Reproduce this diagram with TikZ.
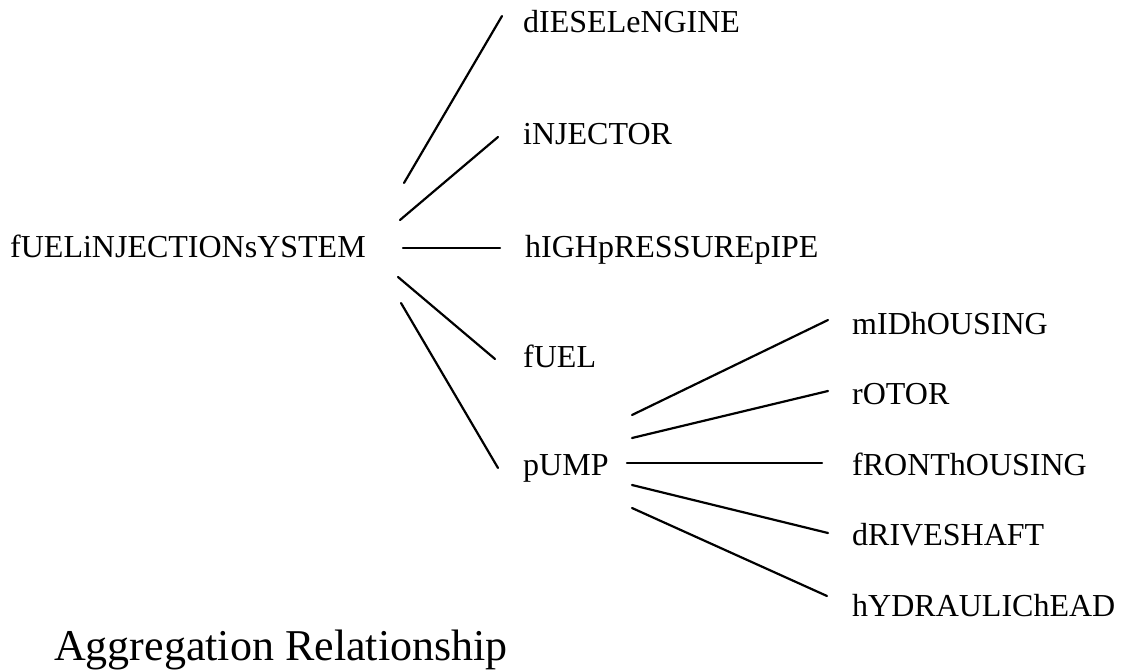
\documentclass[tikz,border=0pt]{standalone}
\usepackage{fontspec}
\setmainfont{Liberation Serif}
\begin{document}
\begin{tikzpicture}[x=1pt,y=-1pt,
  part/.style={anchor=base west,inner sep=0pt,font=\fontsize{32}{36}\selectfont},
  link/.style={line width=2.2pt,line cap=round}]
\useasboundingbox[fill=white] (0,0) rectangle (1127,671);

% top-level assembly and its parts
\node[part] (sys) at (10,258) {fUELiNJECTIONsYSTEM};
\node[part] (diesel) at (523,33) {dIESELeNGINE};
\node[part] (inj) at (523,145) {iNJECTOR};
\node[part] (pipe) at (525,258) {hIGHpRESSUREpIPE};
\node[part] (fuel) at (523,367) {fUEL};
\node[part] (pump) at (523,475) {pUMP};

% parts of the pump
\node[part] (mid) at (852,334) {mIDhOUSING};
\node[part] (rotor) at (852,404) {rOTOR};
\node[part] (front) at (852,475) {fRONThOUSING};
\node[part] (shaft) at (852,545) {dRIVESHAFT};
\node[part] (head) at (852,616) {hYDRAULIChEAD};

\node[anchor=base west,inner sep=0pt,font=\fontsize{44}{50}\selectfont] (title) at (54,660) {Aggregation Relationship};

% connector end points
\coordinate (s1) at (404,183); \coordinate (e1) at (502,16);
\coordinate (s2) at (400,220); \coordinate (e2) at (498,137);
\coordinate (s3) at (403,248); \coordinate (e3) at (500,248);
\coordinate (s4) at (398,277); \coordinate (e4) at (495,359);
\coordinate (s5) at (401,303); \coordinate (e5) at (498,468);

\coordinate (p1) at (632,415); \coordinate (q1) at (828,320);
\coordinate (p2) at (632,438); \coordinate (q2) at (828,391);
\coordinate (p3) at (627,463); \coordinate (q3) at (822,463);
\coordinate (p4) at (632,485); \coordinate (q4) at (828,533);
\coordinate (p5) at (632,508); \coordinate (q5) at (827,596);

\foreach \i in {1,...,5} {
  \draw[link] (s\i) -- (e\i);
  \draw[link] (p\i) -- (q\i);
}
\end{tikzpicture}
\end{document}
